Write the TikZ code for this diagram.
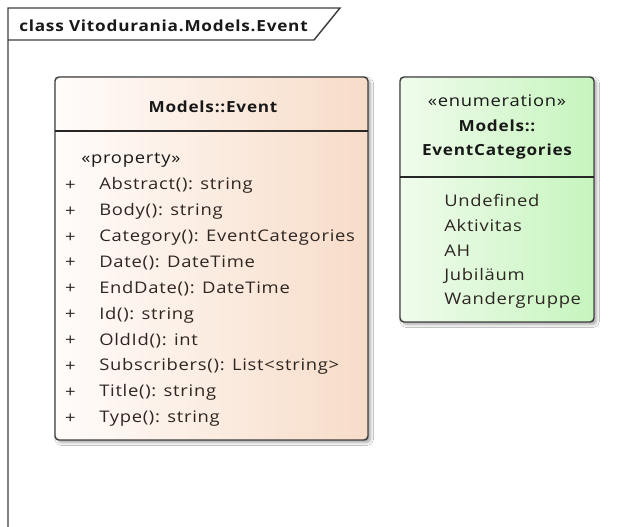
\documentclass[tikz,border=0pt]{standalone}
\usepackage{fontspec}
\setmainfont{Open Sans}[FakeStretch=1.12,LetterSpace=5]
\newfontfamily\itemfont{Open Sans}[FakeStretch=1.15,LetterSpace=4.5]
\usetikzlibrary{shadows.blur}
\definecolor{peachR}{HTML}{F7DCC8}
\definecolor{peachL}{HTML}{FFFCFA}
\definecolor{mintR}{HTML}{C6F5BE}
\definecolor{mintL}{HTML}{F0FBEC}
\definecolor{framegray}{HTML}{404040}
\definecolor{itemtxt}{HTML}{2E2622}
\tikzset{
  px/.style={x=0.75pt,y=-0.75pt},
  umlbox/.style={draw=framegray,line width=1.1pt,rounded corners=3pt,
    blur shadow={shadow xshift=2pt,shadow yshift=-2pt,shadow opacity=35,shadow blur steps=5}},
  classbox/.style={umlbox,left color=peachL,right color=peachR},
  enumbox/.style={umlbox,left color=mintL,right color=mintR},
  divider/.style={draw=black!85,line width=1.1pt},
  head/.style={font=\fontsize{11.5}{13}\selectfont\bfseries,text=black!90,inner sep=0pt},
  stereo/.style={font=\itemfont\fontsize{12}{14}\selectfont,text=black!90,inner sep=0pt},
  item/.style={font=\itemfont\fontsize{12}{14}\selectfont,text=itemtxt,anchor=west,inner sep=0pt},
  plus/.style={font=\itemfont\fontsize{12}{14}\selectfont,text=itemtxt,inner sep=0pt},
  framebox/.style={draw=framegray,line width=1.1pt},
}
\begin{document}
\begin{tikzpicture}[px]
\useasboundingbox[fill=white] (0,0) rectangle (637,527);
% package frame with name tab
\draw[framebox] (8,530) -- (8,8) -- (340,8) -- (314,40) -- (8,40);
\node[head,anchor=west] (frametitle) at (19,26) {class Vitodurania.Models.Event};

% class Models::Event
\path[classbox] (55,77) rectangle (368,440);
\coordinate (evL) at (55,131);
\coordinate (evR) at (368,131);
\draw[divider] (evL) -- (evR);
\node[head] (evname) at (213,107) {Models::Event};
\node[stereo,anchor=west] (evstereo) at (81,160) {«property»};
\foreach \t [count=\i] in {Abstract(): string, Body(): string,
  Category(): EventCategories, Date(): DateTime, EndDate(): DateTime,
  Id(): string, OldId(): int, Subscribers(): List<string>, Title(): string,
  Type(): string} {
  \node[plus] (evplus\i) at (70.5,{185.5+25.9*(\i-1)}) {+};
  \node[item] (evitem\i) at (99,{185.5+25.9*(\i-1)}) {\t};
}

% enumeration Models::EventCategories
\path[enumbox] (400,77) rectangle (594,322);
\coordinate (enL) at (400,177);
\coordinate (enR) at (594,177);
\draw[divider] (enL) -- (enR);
\node[stereo] (enstereo) at (497,101) {«enumeration»};
\node[head] (enname1) at (497,126) {Models::};
\node[head] (enname2) at (497,152) {EventCategories};
\foreach \t [count=\i] in {Undefined, Aktivitas, AH, Jubiläum, Wandergruppe} {
  \node[item] (enitem\i) at (444,{200+25.2*(\i-1)}) {\t};
}
\end{tikzpicture}
\end{document}
